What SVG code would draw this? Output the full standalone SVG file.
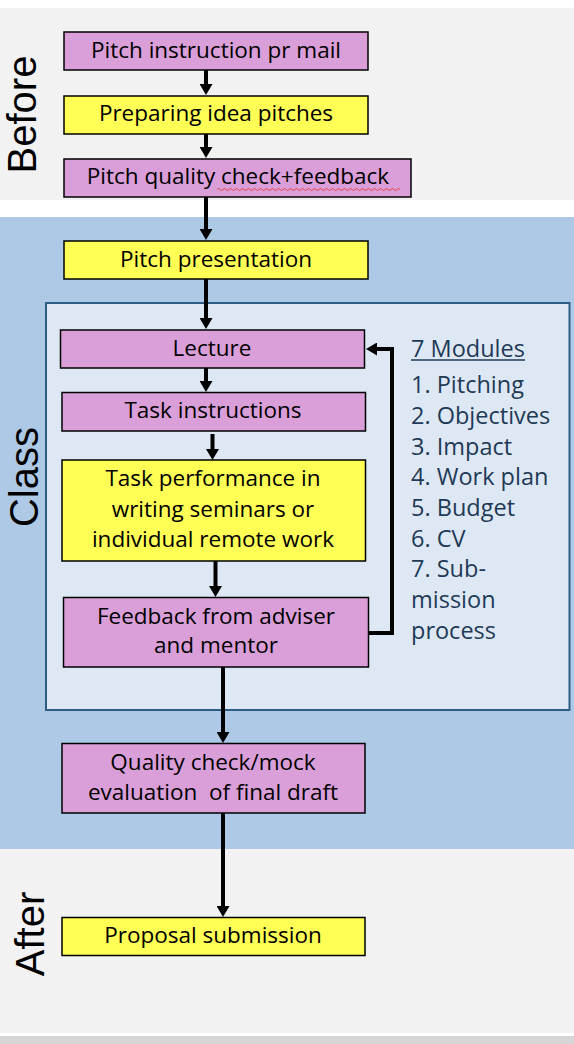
<svg xmlns="http://www.w3.org/2000/svg" width="574" height="1044" viewBox="0 0 574 1044">
<defs>
<style>
.box{stroke:#000;stroke-width:1.5}
.plum{fill:#DA9FD8}
.yel{fill:#FFFF55}
.t{font-family:"Open Sans","Liberation Sans",sans-serif;font-size:22.5px;fill:#000;text-anchor:middle}
.m{font-family:"Open Sans","Liberation Sans",sans-serif;font-size:23.5px;fill:#1F3A56}
.v{font-family:"Liberation Sans",Arial,sans-serif;font-size:40px;fill:#000;text-anchor:middle}
.c{fill:none;stroke:#000;stroke-width:4}
</style>
<marker id="ah" viewBox="0 0 11 13" refX="0" refY="6.5" markerWidth="11" markerHeight="13" markerUnits="userSpaceOnUse" orient="auto">
<path d="M0,0 L11,6.5 L0,13 z" fill="#000"/>
</marker>
</defs>
<rect width="574" height="1044" fill="#FFFFFF"/>
<g id="bands">
<rect x="0" y="8" width="574" height="192" fill="#F2F2F2"/>
<rect x="0" y="217" width="574" height="632" fill="#ADC9E6"/>
<rect x="0" y="849" width="574" height="184" fill="#F2F2F2"/>
<rect x="0" y="1036" width="574" height="8" fill="#D6D6D6"/>
<rect x="46" y="303" width="523.5" height="407" fill="#DEE8F4" stroke="#2E5E86" stroke-width="2"/>
</g>
<g id="labels">
<text class="v" transform="translate(35.5,114.5) rotate(-90)">Before</text>
<text class="v" transform="translate(38,477) rotate(-90)">Class</text>
<text class="v" transform="translate(44,934) rotate(-90)">After</text>
</g>
<g id="modules">
<text class="m" x="411" y="357">7 Modules</text>
<line x1="411" y1="360" x2="525" y2="360" stroke="#1F3A56" stroke-width="1.5"/>
<text class="m" x="411" y="393">1. Pitching</text>
<text class="m" x="411" y="424">2. Objectives</text>
<text class="m" x="411" y="455">3. Impact</text>
<text class="m" x="411" y="485">4. Work plan</text>
<text class="m" x="411" y="516">5. Budget</text>
<text class="m" x="411" y="547">6. CV</text>
<text class="m" x="411" y="577">7. Sub-</text>
<text class="m" x="411" y="608">mission</text>
<text class="m" x="411" y="639">process</text>
</g>
<g id="connectors">
<line class="c" x1="206" y1="70" x2="206" y2="84" marker-end="url(#ah)"/>
<line class="c" x1="206" y1="134" x2="206" y2="147" marker-end="url(#ah)"/>
<line class="c" x1="206" y1="197" x2="206" y2="229" marker-end="url(#ah)"/>
<line class="c" x1="206" y1="279" x2="206" y2="318" marker-end="url(#ah)"/>
<line class="c" x1="206" y1="368" x2="206" y2="381" marker-end="url(#ah)"/>
<line class="c" x1="212.5" y1="434" x2="212.5" y2="449" marker-end="url(#ah)"/>
<line class="c" x1="215.5" y1="561" x2="215.5" y2="586" marker-end="url(#ah)"/>
<line class="c" x1="223" y1="667" x2="223" y2="732" marker-end="url(#ah)"/>
<line class="c" x1="223" y1="813" x2="223" y2="906" marker-end="url(#ah)"/>
<path class="c" d="M368,633 H392 V349 H377" marker-end="url(#ah)"/>
</g>
<g id="n1">
<rect class="box plum" x="64" y="32" width="304" height="38"/>
<text class="t" x="216" y="57.5">Pitch instruction pr mail</text>
</g>
<g id="n2">
<rect class="box yel" x="64" y="96" width="304" height="38"/>
<text class="t" x="216" y="121">Preparing idea pitches</text>
</g>
<g id="n3">
<rect class="box plum" x="64" y="159" width="347" height="38"/>
<text class="t" x="238" y="184">Pitch quality check+feedback</text>
<path d="M217,189.5 q1.5,-2 3,0 t3,0 t3,0 t3,0 t3,0 t3,0 t3,0 t3,0 t3,0 t3,0 t3,0 t3,0 t3,0 t3,0 t3,0 t3,0 t3,0 t3,0 t3,0 t3,0 t3,0 t3,0 t3,0 t3,0 t3,0 t3,0 t3,0 t3,0 t3,0 t3,0 t3,0 t3,0 t3,0 t3,0 t3,0 t3,0 t3,0 t3,0 t3,0 t3,0 t3,0 t3,0 t3,0 t3,0 t3,0 t3,0 t3,0 t3,0 t3,0 t3,0 t3,0 t3,0 t3,0 t3,0 t3,0 t3,0 t3,0 t3,0 t3,0 t3,0 t3,0" fill="none" stroke="#E0443E" stroke-width="1"/>
</g>
<g id="n4">
<rect class="box yel" x="64" y="241" width="304" height="38"/>
<text class="t" x="216" y="267">Pitch presentation</text>
</g>
<g id="n5">
<rect class="box plum" x="60.5" y="330" width="304" height="38"/>
<text class="t" x="212" y="355.5">Lecture</text>
</g>
<g id="n6">
<rect class="box plum" x="62" y="392.5" width="303.5" height="38.5"/>
<text class="t" x="213" y="418">Task instructions</text>
</g>
<g id="n7">
<rect class="box yel" x="62" y="460" width="303.5" height="101"/>
<text class="t" x="213" y="486">Task performance in</text>
<text class="t" x="213" y="516.5">writing seminars or</text>
<text class="t" x="213" y="546.5">individual remote work</text>
</g>
<g id="n8">
<rect class="box plum" x="63.5" y="597.5" width="305" height="69.5"/>
<text class="t" x="216" y="623.5">Feedback from adviser</text>
<text class="t" x="216" y="653">and mentor</text>
</g>
<g id="n9">
<rect class="box plum" x="62" y="743.5" width="303" height="69.5"/>
<text class="t" x="213" y="770" xml:space="preserve">Quality check/mock</text>
<text class="t" x="213" y="799.5" xml:space="preserve">evaluation  of final draft</text>
</g>
<g id="n10">
<rect class="box yel" x="62" y="917.5" width="303" height="38"/>
<text class="t" x="213" y="942.5">Proposal submission</text>
</g>
</svg>
